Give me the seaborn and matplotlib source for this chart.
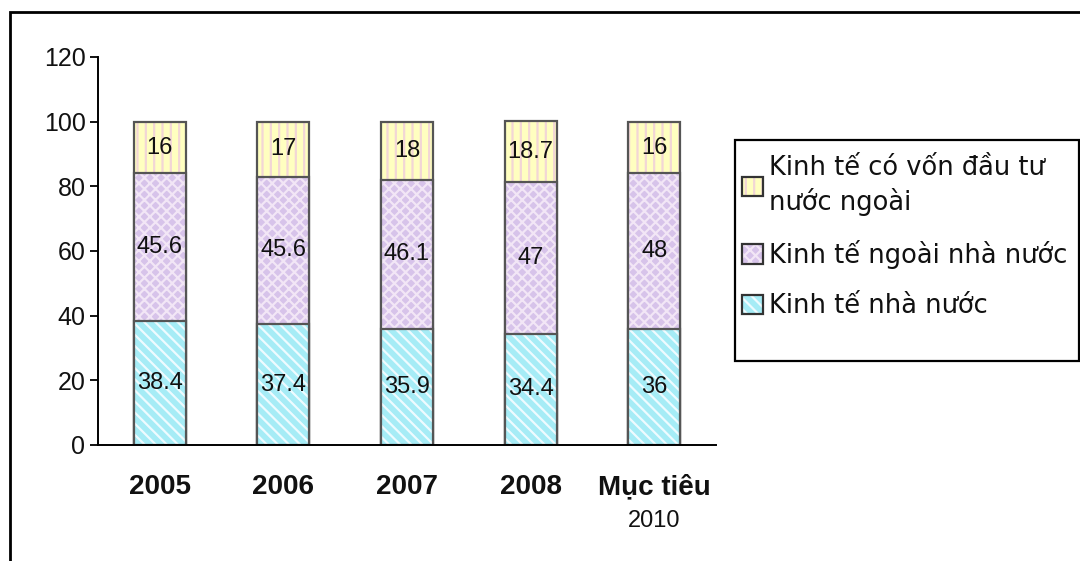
import matplotlib
matplotlib.use("Agg")
import matplotlib.pyplot as plt
import matplotlib.colors as mcolors
from matplotlib.patches import Rectangle, Patch
import seaborn as sns
import pandas as pd
import numpy as np

# Economic structure by ownership sector (% of total)
categories = ["2005", "2006", "2007", "2008", "Mục tiêu"]
category_sublabels = ["", "", "", "", "2010"]
state_sector = [38.4, 37.4, 35.9, 34.4, 36]
non_state_sector = [45.6, 45.6, 46.1, 47, 48]
foreign_sector = [16, 17, 18, 18.7, 16]
value_labels_foreign = ["16", "17", "18", "18.7", "16"]
value_labels_non_state = ["45.6", "45.6", "46.1", "47", "48"]
value_labels_state = ["38.4", "37.4", "35.9", "34.4", "36"]

series_names = ["Kinh tế có vốn đầu tư\nnước ngoài",
                "Kinh tế ngoài nhà nước",
                "Kinh tế nhà nước"]
y_ticks = [0, 20, 40, 60, 80, 100, 120]

sns.set_theme(style="white")
plt.rcParams["font.family"] = ["Liberation Sans", "DejaVu Sans"]
plt.rcParams["hatch.linewidth"] = 1.6

df = pd.DataFrame({
    "category": categories,
    "state": state_sector,
    "non_state": non_state_sector,
    "foreign": foreign_sector,
})
# cumulative tops for stacked drawing (tallest layer first)
df["top_state"] = df["state"]
df["top_non_state"] = df["state"] + df["non_state"]
df["top_foreign"] = df["top_non_state"] + df["foreign"]

W, H = 1080, 561
fig = plt.figure(figsize=(W / 100, H / 100), dpi=100)
ax = fig.add_axes([98 / W, 1 - 445 / H, (716 - 98) / W, (445 - 57) / H])

# (column, face colour, hatch, hatch colour)
layers = [
    ("top_foreign", "#FFFFC0", "||", "#F2D6D6"),
    ("top_non_state", "#D7C3EA", "xxx", "#F2E6F6"),
    ("top_state", "#A6ECF6", "\\\\\\", "#EEFBFF"),
]
edge_col = "#555555"
bar_width = 0.42
for col, face, hatch, hcol in layers:
    sns.barplot(data=df, x="category", y=col, ax=ax, color=face,
                saturation=1, width=bar_width, order=categories,
                edgecolor=edge_col, linewidth=1.6)


def style_patch(p, face, hatch, hcol):
    p.set_facecolor(face)
    p.set_hatch(hatch)
    p._hatch_color = mcolors.to_rgba(hcol)
    if hasattr(p, "set_hatchcolor"):
        p.set_hatchcolor(hcol)


n = len(categories)
for i, p in enumerate(ax.patches):
    _, face, hatch, hcol = layers[i // n]
    style_patch(p, face, hatch, hcol)

# value labels centred in each segment
label_fs = 17
for i in range(n):
    s, ns, f = state_sector[i], non_state_sector[i], foreign_sector[i]
    for yv, txt in [(s / 2, value_labels_state[i]),
                    (s + ns / 2, value_labels_non_state[i]),
                    (s + ns + f / 2, value_labels_foreign[i])]:
        ax.text(i, yv, txt, ha="center", va="center",
                fontsize=label_fs, color="#111111")

ax.set_ylim(0, 120)
ax.set_xlim(-0.5, n - 0.5)
ax.set_yticks(y_ticks)
ax.set_yticklabels([str(t) for t in y_ticks], fontsize=18, color="#111111")
ax.set_xlabel("")
ax.set_ylabel("")
ax.set_xticks(range(n))
ax.set_xticklabels(categories, fontsize=20, fontweight="bold", color="#111111")
ax.set_xticks(np.arange(-0.5, n, 1.0), minor=True)
ax.tick_params(axis="x", which="major", length=0, pad=21)
ax.tick_params(axis="x", which="minor", length=7, width=1.3, direction="out",
               color="black")
ax.tick_params(axis="y", length=6, width=1.3, direction="out", color="black",
               left=True, pad=3)
for i, sub in enumerate(category_sublabels):
    if sub:
        ax.text(i, -0.168, sub, transform=ax.get_xaxis_transform(),
                ha="center", va="top", fontsize=17, color="#111111")

for side in ["top", "right"]:
    ax.spines[side].set_visible(False)
for side in ["left", "bottom"]:
    ax.spines[side].set_color("black")
    ax.spines[side].set_linewidth(1.4)

# legend (frame drawn separately as a fixed box)
handles = []
for _, face, hatch, hcol in layers:
    h = Patch(facecolor=face, edgecolor="#333333", hatch=hatch, linewidth=1.6)
    h._hatch_color = mcolors.to_rgba(hcol)
    handles.append(h)
leg = fig.legend(handles, series_names, loc="upper left",
                 bbox_to_anchor=(742 / W, 1 - 155 / H),
                 prop={"family": "DejaVu Sans", "size": 18.5}, frameon=False,
                 handlelength=0.8, handleheight=0.8,
                 handletextpad=0.25, borderpad=0, labelspacing=0.95,
                 borderaxespad=0)
for t in leg.get_texts():
    t.set_color("#111111")
    t.set_linespacing(1.3)
for k, lp in enumerate(leg.get_patches()):
    lp._hatch_color = mcolors.to_rgba(layers[k][3])

fig.patches.append(Rectangle((735 / W, 1 - 361 / H), (1079 - 735) / W,
                             (361 - 140) / H, transform=fig.transFigure,
                             fill=False, edgecolor="black", linewidth=1.6))

# chart-area frame
fig.patches.append(Rectangle((10 / W, -0.1), 1.2, 1 - 12 / H + 0.1,
                             transform=fig.transFigure, fill=False,
                             edgecolor="black", linewidth=2, zorder=0))

fig.savefig("out.png", dpi=100, facecolor="white")
